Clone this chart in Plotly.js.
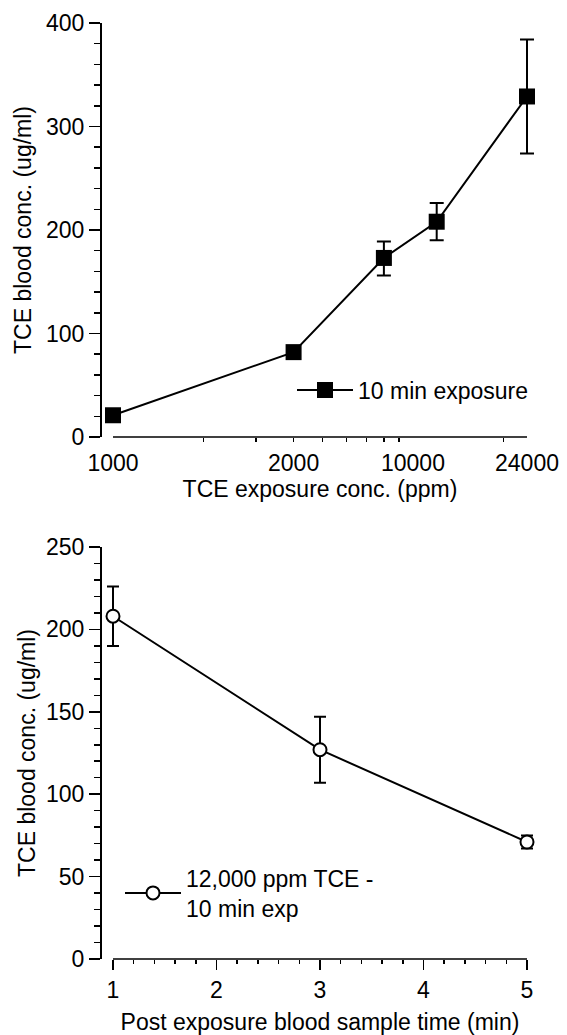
<!DOCTYPE html>
<html>
<head>
<meta charset="utf-8">
<script src="https://cdn.plot.ly/plotly-3.0.1.min.js"></script>
<style>html,body{margin:0;padding:0;background:#fff;}#chart{width:567px;height:1035px;}</style>
</head>
<body>
<div id="chart"></div>
<script>
// ---- Top panel data ----
const topX = [1000, 4000, 8000, 12000, 24000];
const topY = [21, 82, 173, 208, 329];
const topErrPlus = [0, 0, 16, 18, 55];
const topErrMinus = [0, 0, 17, 18, 55];
const topTickVals = [1000, 4000, 10000, 24000];
const topTickText = ['1000', '2000', '10000', '24000'];
const topMajorTicks = [1000, 10000, 24000];
const topMinorTicks = [2000, 3000, 4000, 5000, 6000, 7000, 8000, 9000, 20000];
const topSeriesName = '10 min exposure';

// ---- Bottom panel data ----
const botX = [1, 3, 5];
const botY = [208, 127, 71];
const botErrPlus = [18, 20, 4];
const botErrMinus = [18, 20, 4];
const botSeriesName = '12,000 ppm TCE -<br>10 min exp';

const W = 567, H = 1035;
const FONT = 'Liberation Sans, Arial, Helvetica, sans-serif';
const FS = 23;
const px = v => v / W;
const py = v => 1 - v / H;

// axis extents in pixels (detached axes)
const AX_L = 113, AX_R = 527, PAD = 12;
const TOP_T = 23, TOP_B = 437, BOT_T = 547, BOT_B = 959, YAX_X = 100;

// padded ranges so that edge markers / error bars are not clipped
const topLo = Math.log10(topTickVals[0]), topHi = Math.log10(topTickVals[topTickVals.length - 1]);
const topPad = (topHi - topLo) * PAD / (AX_R - AX_L);
const botLo = botX[0], botHi = botX[botX.length - 1];
const botPad = (botHi - botLo) * PAD / (AX_R - AX_L);

const traces = [
  {
    x: topX, y: topY, xaxis: 'x', yaxis: 'y', name: topSeriesName,
    type: 'scatter', mode: 'lines+markers', cliponaxis: false,
    line: {color: '#000', width: 2},
    marker: {symbol: 'square', size: 16, color: '#000'},
    error_y: {type: 'data', symmetric: false, array: topErrPlus, arrayminus: topErrMinus,
              color: '#000', thickness: 2, width: 7},
    legend: 'legend'
  },
  {
    x: botX, y: botY, xaxis: 'x2', yaxis: 'y2', name: botSeriesName,
    type: 'scatter', mode: 'lines+markers', cliponaxis: false,
    line: {color: '#000', width: 2},
    marker: {symbol: 'circle', size: 13, color: '#fff', line: {color: '#000', width: 2}},
    error_y: {type: 'data', symmetric: false, array: botErrPlus, arrayminus: botErrMinus,
              color: '#000', thickness: 2, width: 6},
    legend: 'legend2'
  }
];

const axCommon = {
  showgrid: false, zeroline: false, showline: true, linecolor: '#000', linewidth: 1.5,
  ticks: 'outside', tickcolor: '#000', tickwidth: 1.5, ticklen: 11,
  tickfont: {family: FONT, size: FS, color: '#000'}, automargin: false, fixedrange: true
};
const titleFont = {family: FONT, size: FS, color: '#000'};

const layout = {
  width: W, height: H,
  margin: {l: 0, r: 0, t: 0, b: 0, pad: 0},
  paper_bgcolor: '#fff', plot_bgcolor: 'rgba(0,0,0,0)',
  font: {family: FONT, size: FS, color: '#000'},
  showlegend: true,
  xaxis: Object.assign({}, axCommon, {
    type: 'log', domain: [px(AX_L - PAD), px(AX_R + PAD)], anchor: 'y', showline: false,
    range: [topLo - topPad, topHi + topPad],
    tickmode: 'array', tickvals: topTickVals, ticktext: topTickText, ticks: '', ticklabelstandoff: 10,
    minor: {tickmode: 'array', tickvals: topMinorTicks, ticks: 'outside', ticklen: 4, tickwidth: 1.5, tickcolor: '#000'},
    title: {text: 'TCE exposure conc. (ppm)', font: titleFont, standoff: 3}
  }),
  xaxis3: Object.assign({}, axCommon, {
    type: 'log', anchor: 'y', overlaying: 'x', showline: false,
    range: [topLo - topPad, topHi + topPad],
    tickmode: 'array', tickvals: topMajorTicks, showticklabels: false, ticklen: 10
  }),
  yaxis: Object.assign({}, axCommon, {
    domain: [py(TOP_B), py(TOP_T)], anchor: 'free', position: px(YAX_X),
    range: [0, 400], tickmode: 'linear', tick0: 0, dtick: 100,
    minor: {dtick: 20, ticks: 'outside', ticklen: 6, tickwidth: 1.5, tickcolor: '#000'},
    title: {text: 'TCE blood conc. (ug/ml)', font: titleFont, standoff: 6}
  }),
  xaxis2: Object.assign({}, axCommon, {
    domain: [px(AX_L - PAD), px(AX_R + PAD)], anchor: 'y2', showline: false,
    range: [botLo - botPad, botHi + botPad], tickmode: 'linear', tick0: 1, dtick: 1, ticklen: 10,
    minor: {dtick: 0.2, ticks: 'outside', ticklen: 4, tickwidth: 1.5, tickcolor: '#000'},
    title: {text: 'Post exposure blood sample time (min)', font: titleFont, standoff: 12}
  }),
  yaxis2: Object.assign({}, axCommon, {
    domain: [py(BOT_B), py(BOT_T)], anchor: 'free', position: px(YAX_X),
    range: [0, 250], tickmode: 'linear', tick0: 0, dtick: 50,
    minor: {dtick: 10, ticks: 'outside', ticklen: 6, tickwidth: 1.5, tickcolor: '#000'},
    title: {text: 'TCE blood conc. (ug/ml)', font: titleFont, standoff: 2}
  }),
  shapes: [
    {type: 'line', xref: 'paper', yref: 'y domain', x0: px(AX_L), x1: px(AX_R), y0: 0, y1: 0,
     line: {color: '#000', width: 1.5}},
    {type: 'line', xref: 'paper', yref: 'y2 domain', x0: px(AX_L), x1: px(AX_R), y0: 0, y1: 0,
     line: {color: '#000', width: 1.5}}
  ],
  legend: {x: px(292), y: py(390), xanchor: 'left', yanchor: 'middle', xref: 'paper', yref: 'paper',
           itemwidth: 56, bgcolor: 'rgba(0,0,0,0)', borderwidth: 0, font: {family: FONT, size: FS, color: '#000'}},
  legend2: {x: px(120), y: py(893), xanchor: 'left', yanchor: 'middle', xref: 'paper', yref: 'paper',
            itemwidth: 56, bgcolor: 'rgba(0,0,0,0)', borderwidth: 0, font: {family: FONT, size: FS, color: '#000'}}
};

Plotly.newPlot('chart', traces, layout, {staticPlot: true, displayModeBar: false});
</script>
</body>
</html>
